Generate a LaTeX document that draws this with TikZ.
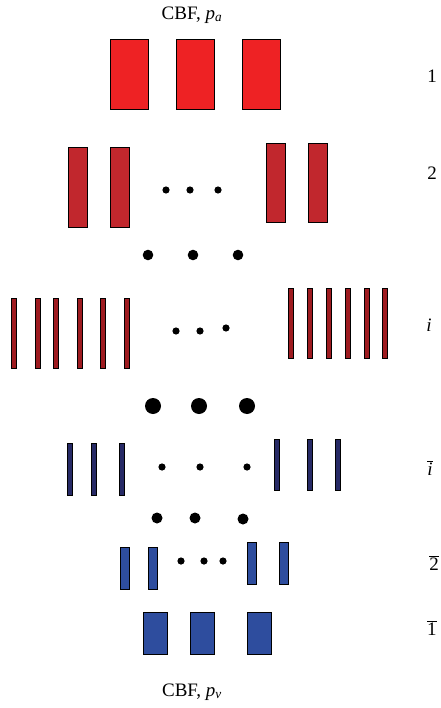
\documentclass[tikz,border=0pt]{standalone}
\usepackage{fontspec}
\setmainfont{Liberation Serif}
\usepackage{xcolor}

\definecolor{redone}{HTML}{EE2224}
\definecolor{redtwo}{HTML}{C1272D}
\definecolor{redi}{HTML}{9E1B20}
\definecolor{bluei}{HTML}{272A66}
\definecolor{bluetwo}{HTML}{2E4D9E}

\begin{document}
\begin{tikzpicture}[x=1pt, y=-1pt,
	bar/.style={draw=black, line width=0.9pt},
	lbl/.style={inner sep=0pt, font=\fontsize{19}{22}\selectfont}]
	\useasboundingbox (0,0) rectangle (440,708);
	% top row, p_a
	\node[lbl] (ttl) at (192,15) {CBF, \textit{p}\textsubscript{\textit{a}}};
	\foreach \x in {110,176,242}
		\filldraw[bar, fill=redone] (\x,39) rectangle ++(38,70);
	\node[lbl] (lvla) at (432,76) {1};
	% row 2
	\foreach \x in {68,110}
		\filldraw[bar, fill=redtwo] (\x,147) rectangle ++(19,80);
	\foreach \x in {266,308}
		\filldraw[bar, fill=redtwo] (\x,143) rectangle ++(19,79);
	\foreach \x in {166,190,218}
		\fill (\x,190) circle (3.6);
	\node[lbl] (lvlb) at (432,173) {2};
	% gap
	\foreach \x in {148,193,238}
		\fill (\x,255) circle (5.3);
	% row i
	\foreach \x in {14,38,56,80,103,127}
		\filldraw[bar, fill=redi] (\x-2.5,298) rectangle ++(5,70);
	\foreach \x in {291,310,329,348,367,385}
		\filldraw[bar, fill=redi] (\x-2.5,288) rectangle ++(5,70);
	\fill (176,331) circle (3.6);
	\fill (200,331) circle (3.6);
	\fill (226,328) circle (3.6);
	\node[lbl] (lvli) at (429,325) {\textit{i}};
	% gap
	\foreach \x in {153,199,247}
		\fill (\x,406) circle (8);
	% row i bar
	\foreach \x in {70,94,122}
		\filldraw[bar, fill=bluei] (\x-2.4,443) rectangle ++(4.8,52);
	\foreach \x in {277,310,338}
		\filldraw[bar, fill=bluei] (\x-2.4,439) rectangle ++(4.8,51);
	\foreach \x in {162,200,247}
		\fill (\x,467) circle (3.6);
	\node[lbl] (lvlj) at (430,468) {$\overline{\mbox{\textit{i}}}$};
	% gap
	\fill (157,518) circle (5.5);
	\fill (195,518) circle (5.5);
	\fill (243,519) circle (5.5);
	% row 2 bar
	\foreach \x in {120,148}
		\filldraw[bar, fill=bluetwo] (\x,547) rectangle ++(9.5,42);
	\foreach \x in {247,279}
		\filldraw[bar, fill=bluetwo] (\x,542) rectangle ++(9.5,42);
	\foreach \x in {181,204,223}
		\fill (\x,561) circle (3.6);
	\node[lbl, anchor=east] (lvlk) at (439,563) {$\overline{\mbox{2}}$};
	% bottom row, p_v
	\foreach \x in {143,190,247}
		\filldraw[bar, fill=bluetwo] (\x,612) rectangle ++(24,42);
	\node[lbl, anchor=west] (lvll) at (427,628) {$\overline{\mbox{1}}$};
	\node[lbl] (btm) at (192,692) {CBF, \textit{p}\textsubscript{\textit{v}}};
\end{tikzpicture}
\end{document}
